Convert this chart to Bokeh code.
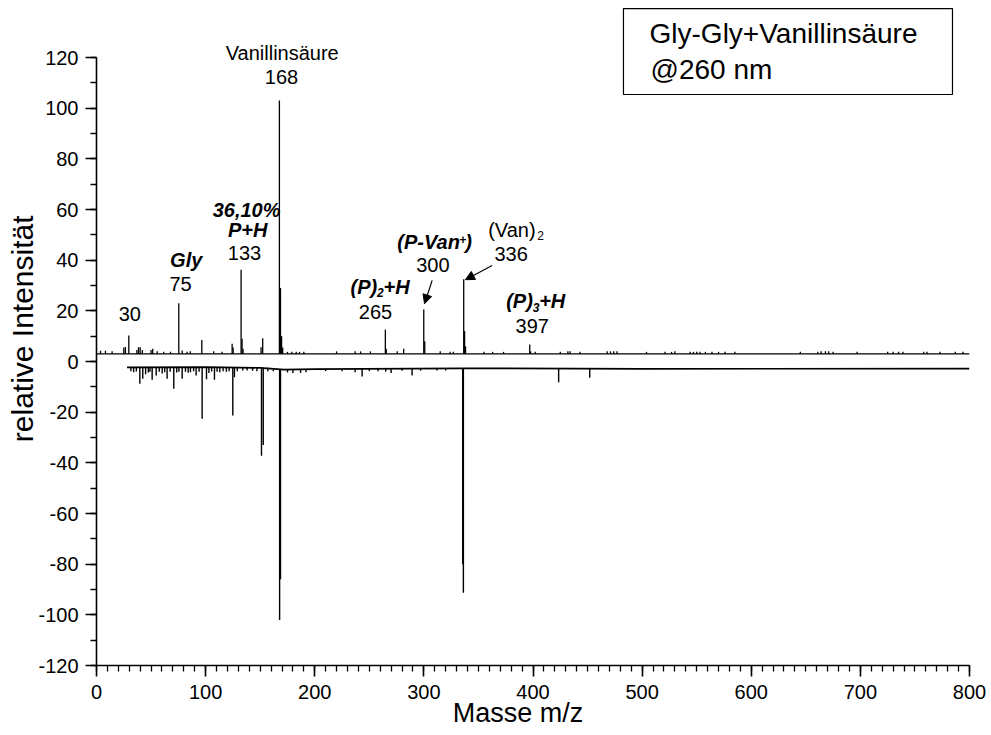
from bokeh.plotting import figure
from bokeh.models import (Range1d, SingleIntervalTicker, Label, Arrow,
                          NormalHead, BoxAnnotation, PrintfTickFormatter)
from bokeh.embed import file_html
from bokeh.resources import INLINE

FONT = "Liberation Sans"

# ---------------- data ----------------
# upper spectrum (positive): baseline and peak tops
upper_base_x = [0, 800]
upper_base_y = [3.0, 3.0]
upper_peak_mz = [3.7, 8.2, 14.3, 25.0, 26.5, 29.6, 37.0, 38.5, 40.0, 42.0,
                 50.0, 51.5, 55.6, 61.6, 67.8, 75.4, 78.5, 83.0, 86.0, 96.5,
                 107.4, 115.0, 124.3, 125.2, 132.5, 133.4, 134.3, 150.8, 152.3,
                 167.6, 168.6, 169.6, 170.6, 175.0, 179.0, 183.0, 186.0, 190.0,
                 220.0, 237.0, 242.0, 251.0, 264.7, 265.5, 275.6, 281.5, 299.9,
                 300.8, 315.0, 324.0, 327.0, 336.5, 337.3, 338.2, 355.0, 363.0,
                 373.0, 397.0, 397.8, 402.0, 425.0, 432.0, 434.0, 443.0, 468.0,
                 471.0, 474.0, 477.0, 504.0, 521.0, 527.0, 530.0, 544.0, 547.0,
                 550.0, 553.0, 558.0, 564.0, 570.0, 576.0, 585.0, 645.0, 661.0,
                 664.0, 668.0, 671.0, 675.0, 697.0, 725.0, 730.0, 735.0, 739.0,
                 758.0, 761.0, 773.0, 787.0, 794.0]
upper_peak_int = [4.2, 4.2, 4.0, 5.5, 5.7, 10.3, 4.5, 5.6, 5.6, 4.5,
                  4.5, 5.0, 4.0, 3.8, 3.8, 23.0, 4.3, 3.8, 4.0, 8.5,
                  4.0, 3.8, 7.0, 5.5, 36.2, 9.0, 5.0, 5.6, 9.2,
                  103.0, 29.0, 10.0, 5.5, 3.8, 3.8, 3.8, 3.8, 3.8,
                  4.0, 4.0, 4.0, 4.0, 12.6, 5.0, 4.0, 5.0, 20.5,
                  8.0, 4.0, 3.8, 3.8, 32.5, 12.0, 6.0, 3.8, 3.8,
                  3.8, 6.7, 4.0, 3.8, 3.8, 4.0, 4.0, 3.8, 4.0,
                  4.0, 4.0, 4.0, 3.8, 3.8, 3.8, 4.0, 3.8, 3.8,
                  3.8, 3.8, 3.8, 3.8, 3.8, 3.8, 3.8, 3.8, 3.8,
                  4.0, 4.0, 4.0, 3.8, 3.8, 3.8, 3.8, 3.8, 3.8,
                  3.8, 3.8, 3.8, 3.8, 3.8]

# lower spectrum (negative): baseline and peak bottoms
lower_base_x = [28, 100, 150, 172, 200, 335, 500, 800]
lower_base_y = [-2.3, -2.2, -2.5, -3.2, -3.0, -2.7, -2.9, -2.8]
lower_peak_mz = [31.5, 34.0, 36.5, 39.7, 42.4, 45.0, 47.5, 49.0, 51.0, 54.7,
                 57.5, 60.2, 62.5, 64.7, 67.5, 70.8, 73.5, 75.5, 78.5, 81.5,
                 84.0, 86.1, 89.0, 91.3, 94.0, 96.8, 100.8, 103.0, 105.5, 108.1,
                 110.5, 113.0, 116.0, 119.0, 121.5, 124.9, 126.4, 129.0, 134.0,
                 138.0, 143.0, 147.0, 151.2, 152.8, 157.0, 162.0, 167.8, 168.6,
                 175.0, 180.0, 187.0, 192.0, 210.0, 225.0, 237.0, 243.4, 250.0,
                 258.0, 265.0, 270.0, 280.0, 289.2, 297.0, 312.0, 320.0, 335.6,
                 336.2, 423.5, 452.0]
lower_peak_int = [-3.8, -4.2, -3.9, -8.8, -6.8, -5.0, -4.3, -4.0, -7.2, -5.5,
                  -4.0, -4.7, -4.2, -6.8, -4.0, -10.8, -4.3, -4.0, -6.8, -4.0,
                  -4.4, -4.2, -3.8, -5.5, -4.0, -22.6, -7.0, -4.5, -3.9, -7.2,
                  -4.0, -4.2, -3.8, -4.0, -3.8, -21.3, -6.2, -3.8, -3.6, -3.6,
                  -3.7, -3.8, -37.2, -33.0, -3.8, -3.8, -102.0, -86.0,
                  -4.3, -4.5, -4.5, -4.2, -3.8, -3.8, -4.2, -5.9, -3.8,
                  -3.8, -4.0, -4.5, -3.7, -5.5, -3.6, -3.6, -3.6, -80.0,
                  -91.3, -8.2, -6.4]

# axis limits
x_lim = [0, 800]
y_lim = [-120, 120]

# ---------------- figure ----------------
p = figure(width=991, height=735,
           x_range=Range1d(0, 800), y_range=Range1d(-120, 142.5),
           output_backend="svg", toolbar_location=None,
           min_border_left=96, min_border_right=22,
           min_border_top=0, min_border_bottom=70)
p.outline_line_color = None
p.grid.visible = False
p.background_fill_color = "white"

# upper spectrum
p.line(upper_base_x, upper_base_y, line_color="black", line_width=1.3)
p.segment(x0=upper_peak_mz, y0=[upper_base_y[0]] * len(upper_peak_mz),
          x1=upper_peak_mz, y1=upper_peak_int, line_color="black", line_width=1.3)

# lower spectrum
p.line(lower_base_x, lower_base_y, line_color="black", line_width=1.7)
lower_y0 = []
for m in lower_peak_mz:
    i = min(range(len(lower_base_x)), key=lambda k: abs(lower_base_x[k] - m))
    lower_y0.append(lower_base_y[i])
p.segment(x0=lower_peak_mz, y0=lower_y0, x1=lower_peak_mz, y1=lower_peak_int,
          line_color="black", line_width=1.4)

# axes
for ax in (p.xaxis[0], p.yaxis[0]):
    ax.axis_line_width = 1.6
    ax.major_tick_line_width = 1.6
    ax.minor_tick_line_width = 1.3
    ax.major_tick_in = 0
    ax.major_tick_out = 11
    ax.minor_tick_in = 0
    ax.minor_tick_out = 6
    ax.major_label_text_font = FONT
    ax.major_label_text_font_size = "20px"
    ax.major_label_text_color = "black"
    ax.axis_line_color = "black"
    ax.major_tick_line_color = "black"
    ax.minor_tick_line_color = "black"
    ax.axis_label_text_font = FONT
    ax.axis_label_text_font_style = "normal"
    ax.axis_label_text_color = "black"
    ax.formatter = PrintfTickFormatter(format="%d")

p.xaxis.ticker = SingleIntervalTicker(interval=100, num_minor_ticks=10)
p.yaxis.ticker = SingleIntervalTicker(interval=20, num_minor_ticks=2)
p.yaxis.bounds = tuple(y_lim)
p.xaxis.bounds = tuple(x_lim)
p.yaxis.major_label_standoff = 7
p.xaxis.major_label_standoff = 8

NB = "\u00a0"
p.xaxis.axis_label = "Masse m/z" + NB * 4
p.xaxis.axis_label_text_font_size = "27px"
p.xaxis.axis_label_standoff = -4
p.yaxis.axis_label = NB + "relative Intensität"
p.yaxis.axis_label_text_font_size = "30px"
p.yaxis.axis_label_standoff = -4


def lab(x, y, text, size=20, style="normal", align="center", xoff=0, yoff=0,
        baseline="middle"):
    p.add_layout(Label(x=x, y=y, text=text, text_font=FONT,
                       text_font_size=f"{size}px", text_font_style=style,
                       text_align=align, text_baseline=baseline,
                       x_offset=xoff, y_offset=yoff, text_color="black"))


# peak annotations
lab(170.2, 121.7, "Vanillinsäure")
lab(169.5, 112.2, "168")
lab(30.5, 18.6, "30")
lab(82.2, 39.9, "Gly", style="bold italic")
lab(77.0, 30.4, "75")
lab(137.5, 59.9, "36,10%", style="bold italic")
lab(138.6, 52.0, "P+H", style="bold italic")
lab(135.6, 42.8, "133")
# (P)2+H
lab(232.8, 29.6, "(P)", style="bold italic", align="left")
lab(232.8, 29.6, "2", size=12, style="bold italic", align="left", xoff=26.5, yoff=-6)
lab(232.8, 29.6, "+H", style="bold italic", align="left", xoff=33)
lab(255.7, 19.7, "265")
# (P-Van+)
lab(275.6, 47.1, "(P-Van", style="bold italic", align="left")
lab(275.6, 47.1, "+", size=12, style="bold italic", align="left", xoff=62, yoff=3)
lab(275.6, 47.1, ")", style="bold italic", align="left", xoff=68)
lab(308.2, 37.9, "300")
# (Van)2
lab(358.9, 52.0, "(Van)", align="left")
lab(358.9, 52.0, "2", size=12, align="left", xoff=49, yoff=-6)
lab(380.0, 42.5, "336")
# (P)3+H
lab(375.4, 23.8, "(P)", style="bold italic", align="left")
lab(375.4, 23.8, "3", size=12, style="bold italic", align="left", xoff=26.5, yoff=-6)
lab(375.4, 23.8, "+H", style="bold italic", align="left", xoff=33)
lab(399.3, 14.2, "397")

# arrows
for xs, ys, xe, ye in [(307.6, 32.0, 300.6, 22.8), (362.6, 37.9, 338.1, 32.3)]:
    p.add_layout(Arrow(end=NormalHead(size=9, fill_color="black", line_color="black"),
                       x_start=xs, y_start=ys, x_end=xe, y_end=ye,
                       line_color="black", line_width=1.2))

# legend box
p.add_layout(BoxAnnotation(left=482.9, right=784.4, top=139.3, bottom=105.4,
                           fill_color=None, fill_alpha=0, line_color="black",
                           line_alpha=1.0, line_width=1.2))
lab(506.8, 129.4, "Gly-Gly+Vanillinsäure", size=28, align="left")
lab(507.7, 115.3, "@260 nm", size=28, align="left")

open("out.html", "w").write(file_html(p, INLINE))
